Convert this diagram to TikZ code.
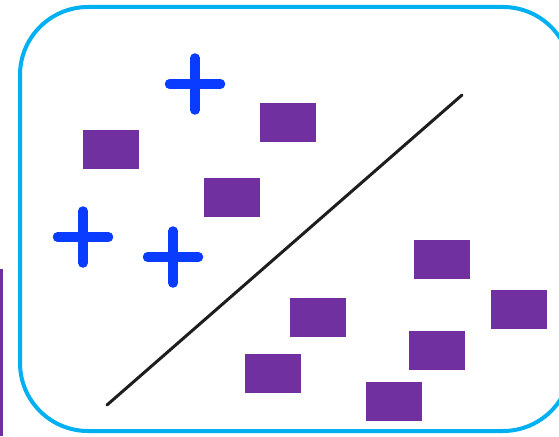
\documentclass[tikz,border=0pt]{standalone}
\definecolor{frameblue}{HTML}{00B0F0}
\definecolor{boxpurple}{HTML}{7030A0}
\definecolor{plusblue}{HTML}{0A3CFF}
\definecolor{sepline}{HTML}{1E1E1E}
\tikzset{
  sample/.style={fill=boxpurple, draw=none, minimum width=56pt, minimum height=39pt, inner sep=0pt, outer sep=0pt},
  plusbar/.style={draw=plusblue, line width=9.5pt, line cap=round},
  frame/.style={draw=frameblue, line width=4pt, rounded corners=68pt},
  separator/.style={draw=sepline, line width=3pt, line cap=round}
}
\begin{document}
\begin{tikzpicture}[x=1pt,y=-1pt]
\useasboundingbox (0,0) rectangle (559,436);
\clip (0,0) rectangle (559,436);
% frame
\draw[frame] (20,7) rectangle (571,431);
% left purple bar
\fill[boxpurple] (0,269) rectangle (3,436);
% separator line
\coordinate (s1) at (107,405);
\coordinate (s2) at (462,95);
\draw[separator] (s1) -- (s2);
% purple samples
\node[sample] (r1) at (111,149.5) {};
\node[sample] (r2) at (232,197.5) {};
\node[sample] (r3) at (288,122.5) {};
\node[sample] (r4) at (442,259.5) {};
\node[sample] (r5) at (519,309.5) {};
\node[sample] (r6) at (437,350.5) {};
\node[sample] (r7) at (394,401.5) {};
\node[sample] (r8) at (318,317.5) {};
\node[sample] (r9) at (273,373.5) {};
% plus signs
\foreach \n/\cx/\cy in {p1/195/84, p2/83/237, p3/173/257}{
  \coordinate (\n) at (\cx,\cy);
  \draw[plusbar] ([xshift=-25.5pt]\n) -- ([xshift=25.5pt]\n);
  \draw[plusbar] ([yshift=26pt]\n) -- ([yshift=-26pt]\n);
}
\end{tikzpicture}
\end{document}
